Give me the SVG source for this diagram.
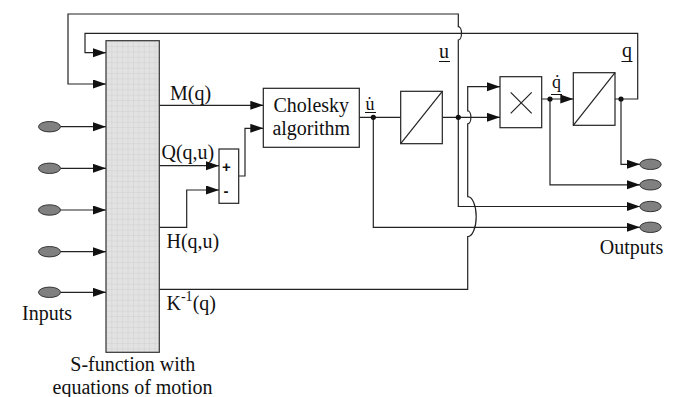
<svg xmlns="http://www.w3.org/2000/svg" width="679" height="397" viewBox="0 0 679 397">
<style>
.ln{fill:none;stroke:#222;stroke-width:1.2}
.bx{fill:#fff;stroke:#222;stroke-width:1.2}
.port{fill:#808080;stroke:#333;stroke-width:1}
.t{font-size:20px;fill:#111}
.ts{font-size:18px;fill:#111}
.sg{font-family:'Liberation Sans',Arial,sans-serif;font-size:15px;font-weight:bold;fill:#111}
.ul{stroke:#111;stroke-width:1}
.mid{text-anchor:middle}
</style>
<defs>
<marker id="ar" markerUnits="userSpaceOnUse" markerWidth="14" markerHeight="10" refX="13" refY="4.5" orient="auto">
<path d="M0,0 L13,4.5 L0,9 Z" fill="#111"/>
</marker>
<pattern id="grid" patternUnits="userSpaceOnUse" width="5.4" height="5.4" x="106" y="40.7">
<rect width="5.4" height="5.4" fill="#e2e2e2"/>
<path d="M0,0 H5.4 M0,0 V5.4" stroke="#c2c2c2" stroke-width="0.6" fill="none"/>
</pattern>
</defs>
<rect width="679" height="397" fill="#fff"/>

<g id="connectors" font-family="Liberation Serif, Times New Roman, serif">
<path class="ln" marker-end="url(#ar)" d="M60.5,126.7 H106"/>
<path class="ln" marker-end="url(#ar)" d="M60.5,168.3 H106"/>
<path class="ln" marker-end="url(#ar)" d="M60.5,210 H106"/>
<path class="ln" marker-end="url(#ar)" d="M60.5,251.7 H106"/>
<path class="ln" marker-end="url(#ar)" d="M60.5,292.3 H106"/>
<path class="ln" marker-end="url(#ar)" d="M615,99 H637.7 V33.3 H85 V52.7 H106"/>
<path class="ln" marker-end="url(#ar)" d="M458.3,117.3 V40 A3.2,6.7 0 0 0 458.3,26.6 V14 H68 V84 H106"/>
<path class="ln" marker-end="url(#ar)" d="M458.3,117.3 V206.5 H640"/>
<path class="ln" marker-end="url(#ar)" d="M159.3,105.3 H263.3"/>
<path class="ln" marker-end="url(#ar)" d="M159.3,165.7 H219"/>
<path class="ln" marker-end="url(#ar)" d="M159.3,227.3 H186.7 V190 H219"/>
<path class="ln" marker-end="url(#ar)" d="M238.7,176 H245 V128.3 H263.3"/>
<path class="ln" marker-end="url(#ar)" d="M159.3,289.3 H467.7 V236.7 A8.5,20 0 0 0 467.7,196.7 V123.8 A3.2,6.5 0 0 0 467.7,110.8 V86.7 H500"/>
<path class="ln" d="M359.3,117.3 H400.7"/>
<path class="ln" marker-end="url(#ar)" d="M373.3,117.3 V227.3 H640"/>
<path class="ln" marker-end="url(#ar)" d="M442.3,117.3 H500"/>
<path class="ln" marker-end="url(#ar)" d="M541.7,99 H573.3"/>
<path class="ln" marker-end="url(#ar)" d="M550,99 V184.8 H640"/>
<path class="ln" marker-end="url(#ar)" d="M621,99 V164.3 H640"/>
<circle cx="373.3" cy="117.3" r="2.6" fill="#111"/>
<circle cx="458.3" cy="117.3" r="2.6" fill="#111"/>
<circle cx="550" cy="99" r="2.6" fill="#111"/>
<circle cx="621" cy="99" r="2.6" fill="#111"/>
<text class="t" x="170" y="100">M(q)</text>
<text class="t" x="161.5" y="158.5">Q(q,u)</text>
<text class="t" x="166.5" y="247.5">H(q,u)</text>
<text class="t" x="166.5" y="310">K<tspan font-size="14" dy="-9">-1</tspan><tspan dy="9">(q)</tspan></text>
<text class="t" x="439" y="58">u</text>
<line class="ul" x1="439" y1="61.5" x2="450" y2="61.5"/>
<text class="t" x="622" y="56.5">q</text>
<line class="ul" x1="621.5" y1="61.5" x2="632.5" y2="61.5"/>
<text class="ts mid" x="370" y="109.5">u̇</text>
<line class="ul" x1="365" y1="112.5" x2="376" y2="112.5"/>
<text class="ts mid" x="556.5" y="88">q̇</text>
<line class="ul" x1="551" y1="94.5" x2="562" y2="94.5"/>
</g>

<g id="inputs" font-family="Liberation Serif, Times New Roman, serif">
<ellipse class="port" cx="49.5" cy="126.7" rx="11" ry="5.2"/>
<ellipse class="port" cx="49.5" cy="168.3" rx="11" ry="5.2"/>
<ellipse class="port" cx="49.5" cy="210" rx="11" ry="5.2"/>
<ellipse class="port" cx="49.5" cy="251.7" rx="11" ry="5.2"/>
<ellipse class="port" cx="49.5" cy="292.3" rx="11" ry="5.2"/>
<text class="t" x="22" y="319.5">Inputs</text>
</g>

<g id="s-function" font-family="Liberation Serif, Times New Roman, serif">
<rect x="106" y="40.7" width="53.3" height="311.6" fill="url(#grid)" stroke="#333" stroke-width="1.2"/>
<text class="t mid" x="132.8" y="371">S-function with</text>
<text class="t mid" x="132.5" y="394">equations of motion</text>
</g>

<g id="sum">
<rect class="bx" x="219" y="149" width="19.7" height="54.3"/>
<text class="sg mid" x="226.5" y="172">+</text>
<text class="sg mid" x="226" y="196">-</text>
</g>

<g id="cholesky" font-family="Liberation Serif, Times New Roman, serif">
<rect class="bx" x="263.3" y="88.3" width="96" height="59"/>
<text class="t mid" x="311.3" y="111.7">Cholesky</text>
<text class="t mid" x="311.3" y="135">algorithm</text>
</g>

<g id="integrator1">
<rect class="bx" x="400.7" y="91.3" width="41.6" height="52.4"/>
<line class="ln" x1="400.7" y1="143.7" x2="442.3" y2="91.3"/>
</g>

<g id="multiplier">
<rect class="bx" x="500" y="76.7" width="41.7" height="51"/>
<path class="ln" d="M510.7,92.3 L531.7,113.3 M510.7,113.3 L531.7,92.3"/>
</g>

<g id="integrator2">
<rect class="bx" x="573.3" y="72.7" width="41.7" height="52.6"/>
<line class="ln" x1="573.3" y1="125.3" x2="615" y2="72.7"/>
</g>

<g id="outputs" font-family="Liberation Serif, Times New Roman, serif">
<ellipse class="port" cx="650.5" cy="164.3" rx="10.7" ry="5.2"/>
<ellipse class="port" cx="650.5" cy="184.8" rx="10.7" ry="5.2"/>
<ellipse class="port" cx="650.5" cy="206.5" rx="10.7" ry="5.2"/>
<ellipse class="port" cx="650.5" cy="227.3" rx="10.7" ry="5.2"/>
<text class="t mid" x="631.5" y="254">Outputs</text>
</g>
</svg>
